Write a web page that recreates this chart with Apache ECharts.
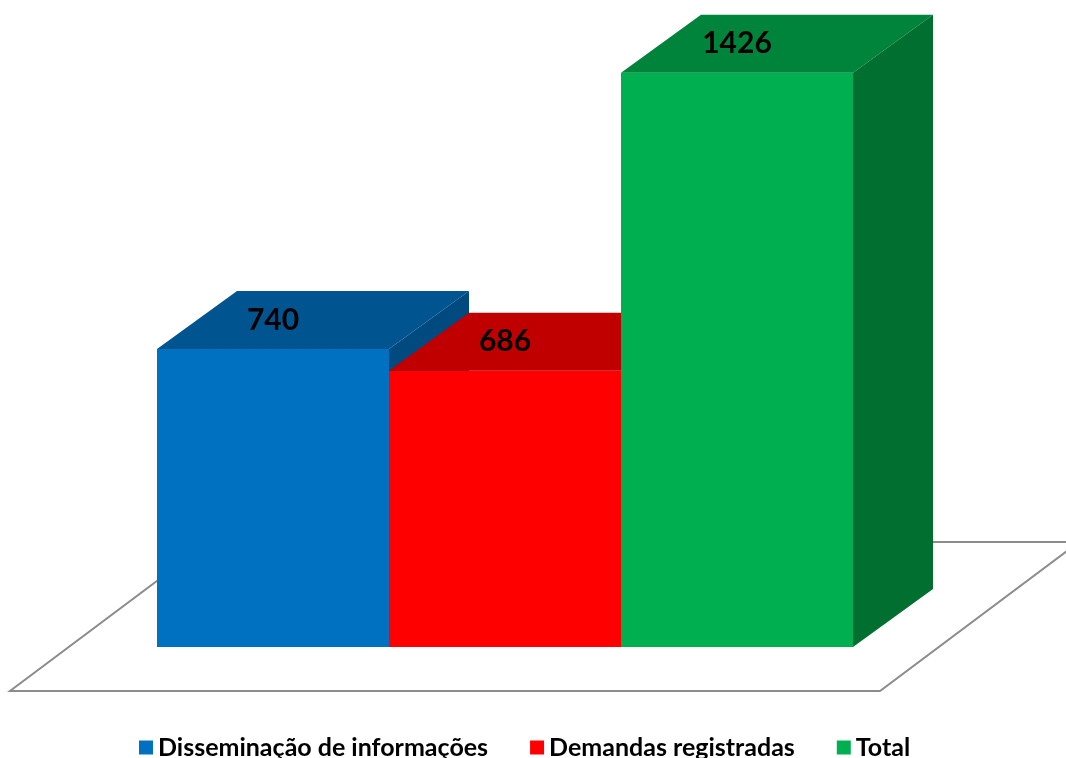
<!DOCTYPE html>
<html>
<head>
<meta charset="utf-8">
<script src="https://cdn.jsdelivr.net/npm/echarts@6/dist/echarts.min.js"></script>
<style>
  html, body { margin: 0; padding: 0; background: #fff; }
  #chart { width: 1066px; height: 758px; }
</style>
</head>
<body>
<div id="chart"></div>
<script>
const categories = ['Disseminação de informações', 'Demandas registradas', 'Total']
const values = [740, 686, 1426]

// front / top / side colours per bar
const palette = [
  { front: '#0070C0', top: '#005591', side: '#004A80' },
  { front: '#FF0000', top: '#C00000', side: '#A00000' },
  { front: '#00B050', top: '#00843C', side: '#006F30' }
]

// depth of the boxes and of the floor, in pixels
const DX = 80, DY = -58
const FLOOR_DX = 199, FLOOR_DY = -149

const chart = echarts.init(document.getElementById('chart'))

const boxRender = (color) => (params, api) => {
  const idx = api.value(0)
  const base = api.coord([idx, 0])
  const top = api.coord([idx, api.value(1)])
  const bw = api.size([1, 0])[0]
  const x0 = base[0] - bw / 2
  const x1 = base[0] + bw / 2
  return {
    type: 'group',
    children: [
      {
        type: 'rect',
        shape: { x: x0, y: top[1], width: bw, height: base[1] - top[1] },
        style: { fill: color.front }
      },
      {
        type: 'polygon',
        shape: { points: [[x0, top[1]], [x0 + DX, top[1] + DY], [x1 + DX, top[1] + DY], [x1, top[1]]] },
        style: { fill: color.top }
      },
      {
        type: 'polygon',
        shape: { points: [[x1, top[1]], [x1 + DX, top[1] + DY], [x1 + DX, base[1] + DY], [x1, base[1]]] },
        style: { fill: color.side }
      },
      {
        type: 'text',
        x: base[0],
        y: top[1] + DY / 2,
        style: {
          text: String(api.value(1)),
          fill: '#000',
          font: 'bold 30px Lato, "Open Sans", sans-serif',
          align: 'center',
          verticalAlign: 'middle'
        }
      }
    ]
  }
}

const floorRender = (params, api) => {
  const left = api.coord([0, 0])
  const right = api.coord([categories.length - 1, 0])
  const bw = api.size([1, 0])[0]
  const y = left[1] + 44
  const fx0 = left[0] - bw / 2 - 147
  const fx1 = right[0] + bw / 2 + 27
  return {
    type: 'polygon',
    shape: {
      points: [[fx0, y], [fx1, y], [fx1 + FLOOR_DX, y + FLOOR_DY], [fx0 + FLOOR_DX, y + FLOOR_DY]]
    },
    style: { fill: '#fff', stroke: '#8C8C8C', lineWidth: 2 }
  }
}

const series = [
  {
    name: 'floor',
    type: 'custom',
    silent: true,
    renderItem: floorRender,
    data: [[0, 0]]
  }
]
categories.forEach((name, i) => {
  series.push({
    name: name,
    type: 'custom',
    renderItem: boxRender(palette[i]),
    itemStyle: { color: palette[i].front },
    data: [[i, values[i]]]
  })
})

const option = {
  animation: false,
  grid: { left: 157, right: 213, top: 43, bottom: 111 },
  xAxis: {
    type: 'category',
    data: categories,
    show: false
  },
  yAxis: {
    type: 'value',
    min: 0,
    max: 1500,
    show: false
  },
  legend: {
    data: categories,
    left: 134,
    top: 730,
    icon: 'rect',
    itemWidth: 14,
    itemHeight: 14,
    itemGap: 42,
    textStyle: {
      color: '#000',
      fontSize: 25,
      fontWeight: 'bold',
      fontFamily: 'Lato, "Open Sans", sans-serif'
    }
  },
  series: series
}

chart.setOption(option)
</script>
</body>
</html>
